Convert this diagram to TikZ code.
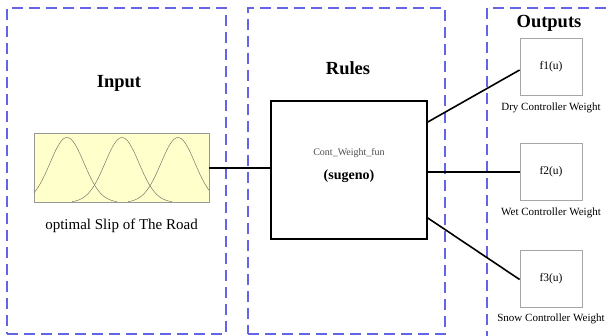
\documentclass[tikz,border=0pt]{standalone}
\usepackage{fontspec}
\setmainfont{Liberation Serif}
\usetikzlibrary{positioning,calc}
\definecolor{Frame}{RGB}{100,100,232}
\definecolor{Pale}{RGB}{255,255,204}
\definecolor{Bell}{RGB}{120,120,110}
\tikzset{
  group/.style={draw=Frame,dash pattern=on 11pt off 6pt,line width=1.1pt,minimum height=326pt},
  title/.style={font=\bfseries\fontsize{18.5}{20}\selectfont},
  mfbox/.style={draw=gray!80,fill=Pale,line width=0.8pt,minimum width=175pt,minimum height=69pt},
  rulebox/.style={draw,line width=1.6pt,minimum width=156pt,minimum height=138pt},
  outbox/.style={draw=gray!70,line width=0.8pt,minimum width=62pt,minimum height=57pt,font=\fontsize{11.5}{13}\selectfont},
  caption/.style={font=\fontsize{11}{12}\selectfont},
  wire/.style={line width=1.6pt},
}

\begin{document}
\begin{tikzpicture}[x=1pt,y=-1pt]
  \useasboundingbox (0,0) rectangle (609,336);
  % Rahmen der drei Bereiche
  \node[group,minimum width=219pt] (ingroup) at (116.5,171) {};
  \node[group,minimum width=197pt] (rulegroup) at (346.5,171) {};
  \draw[draw=Frame,dash pattern=on 11pt off 6pt,line width=1.1pt] (640,8) -- (487,8) -- (487,345);
  % Titel
  \node[title] (intitle) at (119,83) {Input};
  \node[title] (ruletitle) at (348,68) {Rules};
  \node[title] (outtitle) at (549,23) {Outputs};
  % Eingang mit Zugehoerigkeitsfunktionen
  \node[mfbox] (mf) at (121.5,168) {};
  \foreach \m/\a/\b in {67/34/117,122/72/172,178/128/209} {
      \draw[Bell,line width=0.5pt] plot[domain=\a:\b,samples=60,smooth] (\x,{202.5-65*exp(-((\x-\m)^2)/578)});
    }
  \node[font=\fontsize{15}{17}\selectfont,below=13pt of mf] (inlabel) {optimal Slip of The Road};
  % Regelblock
  \node[rulebox] (rules) at (349,170) {};
  \node[text=black!70,font=\fontsize{10}{12}\selectfont] (fisname) at ([yshift=17pt]rules.center) {Cont\_Weight\_fun};
  \node[font=\bfseries\fontsize{14}{16}\selectfont] (fistype) at ([yshift=-6pt]rules.center) {(sugeno)};
  % Ausgaenge
  \node[outbox] (f1) at (551,67) {f1(u)};
  \node[outbox] (f2) at (551,172) {f2(u)};
  \node[outbox] (f3) at (551,278.5) {f3(u)};
  \node[caption,below=3pt of f1] (dry) {Dry Controller Weight};
  \node[caption,below=3pt of f2] (wet) {Wet Controller Weight};
  \node[caption,below=3pt of f3] (snow) {Snow Controller Weight};
  % Verbindungen
  \draw[wire] (mf.east) -- (mf.east -| rules.west);
  \draw[wire] ([yshift=48pt]rules.east) -- ([yshift=-3pt]f1.west);
  \draw[wire] (f2.west -| rules.east) -- (f2.west);
  \draw[wire] ([yshift=-48pt]rules.east) -- ([yshift=-1pt]f3.west);
\end{tikzpicture}
\end{document}
